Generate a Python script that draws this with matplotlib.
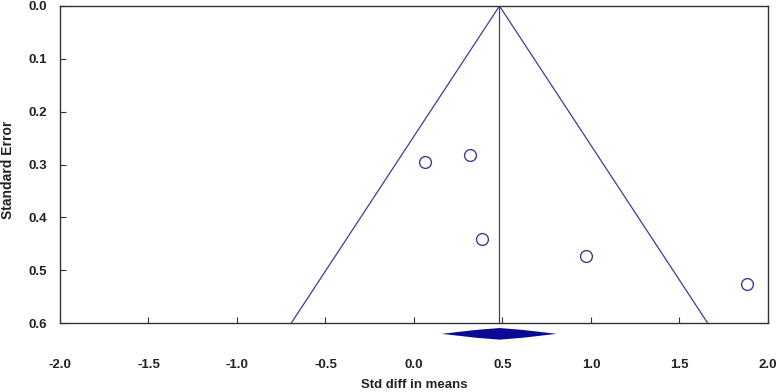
import matplotlib
matplotlib.use("Agg")
import matplotlib.pyplot as plt
import numpy as np

plt.rcParams['font.family'] = ['Liberation Sans', 'DejaVu Sans']

# Data
effects = [0.062, 0.316, 0.384, 0.972, 1.88]
std_errors = [0.295, 0.282, 0.441, 0.473, 0.526]
pooled = 0.483
ci_low, ci_high = 0.156, 0.806
x_ticks = [-2.0, -1.5, -1.0, -0.5, 0.0, 0.5, 1.0, 1.5, 2.0]
y_ticks = [0.0, 0.1, 0.2, 0.3, 0.4, 0.5, 0.6]

line_col = '#3d3d96'
fig = plt.figure(figsize=(7.77, 3.92), dpi=100)
ax = fig.add_axes([0.0772, 0.176, 0.9112, 0.8087])

ymax = 0.6
se = np.array([0.0, ymax])
ax.plot(pooled - 1.96 * se, se, color=line_col, lw=0.9)
ax.plot(pooled + 1.96 * se, se, color=line_col, lw=0.9)
ax.plot([pooled, pooled], [0, ymax], color=line_col, lw=0.9)

ax.plot(effects, std_errors, 'o', mfc='white', mec=line_col, ms=8.5, mew=1.0, zorder=5)

yc = 0.6205
dx = ci_high - pooled
diamond_x = [ci_low, pooled - 0.4 * dx, pooled, pooled + 0.4 * dx, ci_high,
             pooled + 0.4 * dx, pooled, pooled - 0.4 * dx, ci_low]
diamond_y = [yc, yc - 0.0075, yc - 0.0110, yc - 0.0075, yc,
             yc + 0.0075, yc + 0.0110, yc + 0.0075, yc]
ax.fill(diamond_x, diamond_y, color='#0a0a96', clip_on=False, zorder=6, lw=0)

ax.set_xlim(-2.0, 2.0)
ax.set_ylim(0.6, 0.0)
ax.set_xticks(x_ticks)
ax.set_yticks(y_ticks)
ax.set_xticklabels([f"{v:.1f}" for v in x_ticks], fontweight='bold', fontsize=9.5, color='#222222')
ax.set_yticklabels([f"{v:.1f}" for v in y_ticks], fontweight='bold', fontsize=9.5, color='#222222')
ax.tick_params(axis='x', direction='in', length=4, pad=26, color='#333333')
ax.tick_params(axis='y', direction='in', length=4, pad=9, color='#333333')
for s in ax.spines.values():
    s.set_color('#333333')
    s.set_linewidth(1.0)

ax.set_xlabel('Std diff in means', fontweight='bold', fontsize=9.5, color='#222222')
ax.set_ylabel('Standard Error', fontweight='bold', fontsize=10, color='#222222')
ax.xaxis.set_label_coords(0.5, (323 - 384.5) / 317)
ax.xaxis.label.set_va('center')
ax.yaxis.set_label_coords((8 - 60) / 708, (323 - 170) / 317)
ax.yaxis.label.set_va('center')

fig.savefig('out.png', dpi=100)
